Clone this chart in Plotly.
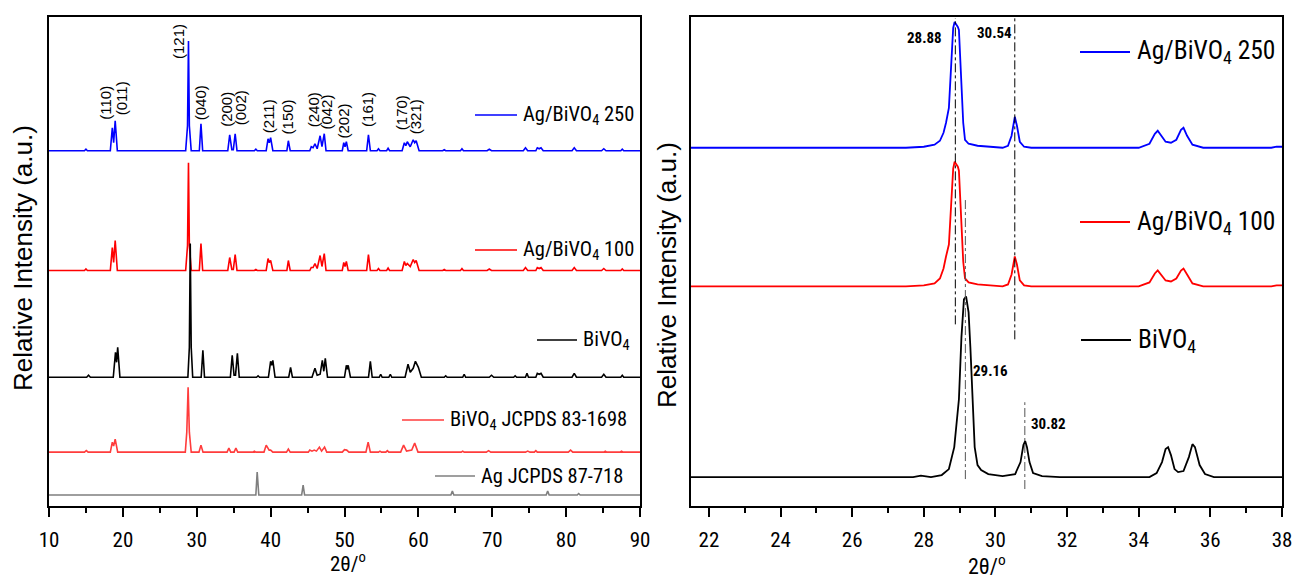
import plotly.graph_objects as go

# ---------------- LEFT PANEL DATA (2θ, relative intensity a.u.) ----------------
L250_x = [10, 14.8, 15.0, 15.2, 18.3, 18.57, 18.75, 18.96, 19.25, 28.5, 28.75, 28.88, 29.0, 29.25,
          30.35, 30.57, 30.8, 34.2, 34.46, 34.75, 34.95, 35.2, 35.45, 37.8, 38.0, 38.2,
          39.4, 39.65, 39.82, 40.0, 40.3, 42.2, 42.4, 42.65, 45.3, 45.5, 45.75, 46.0, 46.3, 46.7, 46.95, 47.26, 47.5,
          49.7, 49.9, 50.07, 50.25, 50.5, 53.0, 53.24, 53.5, 54.4, 54.6, 54.8, 55.7, 55.9, 56.1,
          57.8, 58.1, 58.3, 58.5, 58.9, 59.3, 59.5, 59.7, 60.1, 63.3, 63.5, 63.7, 65.7, 65.9, 66.1,
          69.3, 69.6, 69.9, 74.2, 74.5, 74.8, 75.9, 76.1, 76.35, 76.6, 76.9, 80.8, 81.1, 81.4,
          84.8, 85.1, 85.4, 87.4, 87.6, 87.8, 90]
L250_y = [0, 0, 1.5, 0, 0, 23, 8, 30, 0, 0, 25, 110, 25, 0,
          0, 27, 0, 0, 16, 1, 1, 17, 0, 0, 1.5, 0,
          0, 12, 8, 13, 0, 0, 10, 0, 0, 4, 3, 7, 2, 15, 4, 17, 0,
          0, 8, 4, 9, 0, 0, 16, 0, 0, 2, 0, 0, 2.5, 0,
          0, 8, 5, 9, 4, 11, 8, 10, 0, 0, 1, 0, 0, 2, 0,
          0, 1.5, 0, 0, 3, 0, 0, 3, 2, 3, 0, 0, 3, 0,
          0, 2, 0, 0, 1.5, 0, 0]

L100_x = L250_x
L100_y = [0, 0, 1.5, 0, 0, 23, 8, 30, 0, 0, 25, 108, 25, 0,
          0, 27, 0, 0, 13, 1, 1, 16, 0, 0, 1, 0,
          0, 12, 8, 10, 0, 0, 10, 0, 0, 3, 3, 7, 2, 15, 4, 17, 0,
          0, 8, 4, 9, 0, 0, 16, 0, 0, 2, 0, 0, 2.5, 0,
          0, 9, 5, 7, 4, 11, 8, 10, 0, 0, 1, 0, 0, 2, 0,
          0, 1.5, 0, 0, 3, 0, 0, 3, 2, 3, 0, 0, 3, 0,
          0, 2, 0, 0, 1.5, 0, 0]

LBi_x = [10, 15.1, 15.35, 15.6, 18.7, 19.0, 19.15, 19.3, 19.6, 28.8, 29.0, 29.12, 29.25, 29.45,
         30.6, 30.83, 31.05, 34.55, 34.8, 35.05, 35.25, 35.5, 35.75, 38.1, 38.3, 38.5,
         39.7, 40.0, 40.15, 40.3, 40.6, 42.45, 42.7, 42.95, 45.6, 45.8, 46.0, 46.3, 46.7, 47.0, 47.2, 47.4, 47.7,
         50.0, 50.25, 50.38, 50.5, 50.8, 53.25, 53.5, 53.75, 54.7, 54.9, 55.1, 56.0, 56.2, 56.4,
         58.2, 58.6, 58.9, 59.3, 59.6, 60.0, 60.4, 63.5, 63.7, 63.9, 66.0, 66.2, 66.4, 69.6, 69.9, 70.2,
         72.9, 73.1, 73.3, 74.5, 74.7, 74.9, 75.9, 76.1, 76.35, 76.6, 76.9, 80.8, 81.1, 81.4,
         84.8, 85.1, 85.4, 87.4, 87.6, 87.8, 90]
LBi_y = [0, 0, 2, 0, 0, 25, 15, 30, 0, 0, 30, 134, 30, 0,
         0, 27, 0, 0, 22, 2, 2, 24, 0, 0, 1.5, 0,
         0, 16, 12, 17, 0, 0, 10, 0, 0, 4, 9, 2, 3, 17, 6, 19, 0,
         0, 12, 8, 12, 0, 0, 16, 0, 0, 3, 0, 0, 3, 0,
         0, 13, 5, 9, 16, 10, 0, 0, 1.5, 0, 0, 3, 0, 0, 2, 0,
         0, 1.5, 0, 0, 4, 0, 0, 4, 3, 4, 0, 0, 4, 0,
         0, 3, 0, 0, 2, 0, 0]

LJB_x = [10, 14.8, 15.05, 15.3, 18.3, 18.57, 18.75, 18.96, 19.3, 28.45, 28.65, 28.83, 29.0, 29.25,
         30.3, 30.57, 30.85, 34.1, 34.35, 34.6, 35.05, 35.3, 35.55, 37.6, 37.8, 38.0,
         39.1, 39.4, 39.8, 40.0, 40.3, 42.15, 42.4, 42.65, 45.1, 45.3, 45.6, 45.9, 46.2, 46.6, 46.9, 47.3, 47.6,
         49.7, 50.0, 50.3, 50.6, 52.9, 53.2, 53.5, 54.6, 54.8, 55.0, 55.6, 55.8, 56.0,
         57.6, 58.0, 58.4, 59.1, 59.5, 59.95, 65.8, 66.0, 66.2, 69.2, 69.5, 69.8,
         74.5, 74.8, 75.1, 75.7, 75.9, 76.1, 80.3, 80.6, 80.9, 85.1, 85.3, 85.5, 87.3, 87.5, 87.7, 90]
LJB_y = [0, 0, 1.5, 0, 0, 10, 6, 13, 0, 0, 20, 65, 20, 0,
         0, 7, 0, 0, 4, 0, 0, 4, 0, 0, 1, 0,
         0, 7, 2, 2, 0, 0, 3, 0, 0, 2, 1, 2, 1, 5, 1, 5, 0,
         0, 2.5, 2, 0, 0, 10, 0, 0, 1, 0, 0, 1.5, 0,
         0, 7, 1, 2, 9, 0, 0, 1, 0, 0, 1.5, 0,
         0, 1, 0, 0, 1.5, 0, 0, 2, 0, 0, 1, 0, 0, 1, 0, 0]

LAg_x = [10, 38.0, 38.18, 38.4, 44.2, 44.4, 44.6, 64.4, 64.6, 64.8, 77.3, 77.5, 77.7, 81.5, 81.7, 81.9, 90]
LAg_y = [0, 0, 23, 0, 0, 10, 0, 0, 4, 0, 0, 4, 0, 0, 1.5, 0, 0]

L_names = ["Ag/BiVO<sub>4</sub> 250", "Ag/BiVO<sub>4</sub> 100", "BiVO<sub>4</sub>",
           "BiVO<sub>4</sub> JCPDS 83-1698", "Ag JCPDS 87-718"]
L_offsets = [356, 236, 129, 54, 11]

hkl_labels = ["(110)", "(011)", "(121)", "(040)", "(200)", "(002)", "(211)", "(150)",
              "(240)", "(042)", "(202)", "(161)", "(170)", "(321)"]
hkl_pos = [17.7, 19.8, 27.6, 30.5, 34.1, 35.9, 39.7, 42.3, 45.8, 47.6, 49.9, 53.2, 57.7, 59.6]
hkl_y = [404, 409, 465, 404, 397, 399, 391, 390, 397, 395, 386, 397, 394, 390]

# ---------------- RIGHT PANEL DATA ----------------
R250_x = [21.5, 27.5, 28.0, 28.3, 28.45, 28.55, 28.62, 28.7, 28.76, 28.82, 28.86, 28.9, 28.95, 28.98,
          29.05, 29.1, 29.15, 29.25, 29.5, 29.9, 30.2, 30.35, 30.45, 30.54, 30.6, 30.68, 30.8, 31.0,
          34.0, 34.3, 34.45, 34.53, 34.62, 34.75, 34.9, 35.05, 35.18, 35.25, 35.35, 35.5, 35.8, 37.7, 37.85, 38.0]
R250_y = [0, 0, 1, 3, 7, 15, 25, 40, 80, 120, 126, 124, 121, 118,
          70, 25, 8, 4, 2, 0.5, 0, 2, 12, 31, 22, 6, 1, 0,
          0, 4, 14, 17, 12, 6, 5, 8, 18, 20, 12, 3, 0, 0, 1, 1]

R100_x = R250_x
R100_y = [0, 0, 1, 3, 8, 18, 30, 42, 80, 118, 125, 123, 120, 116,
          70, 25, 8, 4, 2, 0.5, 0, 2, 12, 30, 22, 6, 1, 0,
          0, 4, 13, 16, 12, 6, 5, 8, 16, 18, 12, 3, 0, 0, 1, 1]

RBi_x = [21.5, 27.7, 27.92, 28.2, 28.5, 28.7, 28.85, 28.98, 29.05, 29.12, 29.18, 29.25, 29.3, 29.36,
         29.42, 29.5, 29.6, 29.8, 30.2, 30.55, 30.7, 30.78, 30.83, 30.88, 30.95, 31.05, 31.3, 31.8,
         34.3, 34.5, 34.65, 34.75, 34.82, 34.9, 35.0, 35.1, 35.25, 35.4, 35.5, 35.57, 35.7, 35.85, 36.1, 38.0]
RBi_y = [0, 0, 1.5, 0, 2, 8, 30, 78, 140, 178, 181, 165, 130, 78,
         30, 12, 7, 3, 1, 3, 15, 32, 36, 30, 15, 4, 1, 0,
         0, 4, 15, 28, 30, 22, 8, 5, 6, 20, 33, 30, 12, 3, 0, 0]

R_names = ["Ag/BiVO<sub>4</sub> 250", "Ag/BiVO<sub>4</sub> 100", "BiVO<sub>4</sub>"]
R_offsets = [359, 220, 29]

ref_peaks = [28.88, 30.54, 29.16, 30.82]
ref_labels = ["28.88", "30.54", "29.16", "30.82"]

COLORS = ["#0000FF", "#FF0000", "#000000", "#FF3C3C", "#7F7F7F"]
NARROW = "Roboto Condensed, Liberation Sans Narrow, Arial Narrow, sans-serif"
REG = "Liberation Sans, Arial, sans-serif"

fig = go.Figure()

L_series = [(L250_x, L250_y), (L100_x, L100_y), (LBi_x, LBi_y), (LJB_x, LJB_y), (LAg_x, LAg_y)]
for (xs, ys), off, name, col in zip(L_series, L_offsets, L_names, COLORS):
    fig.add_trace(go.Scatter(x=xs, y=[v + off for v in ys], mode="lines", name=name,
                             line=dict(color=col, width=1.6), xaxis="x", yaxis="y", showlegend=False))

R_series = [(R250_x, R250_y), (R100_x, R100_y), (RBi_x, RBi_y)]
for (xs, ys), off, name, col in zip(R_series, R_offsets, R_names, COLORS[:3]):
    fig.add_trace(go.Scatter(x=xs, y=[v + off for v in ys], mode="lines", name=name,
                             line=dict(color=col, width=1.8), xaxis="x2", yaxis="y2", showlegend=False))

# reference dash-dot lines (right panel)
ref_spans = [(182, 489), (167, 490), (27, 309), (17, 104)]
ref_cols = ["#000000", "#000000", "#555555", "#555555"]
for p, (y0, y1), c in zip(ref_peaks, ref_spans, ref_cols):
    fig.add_trace(go.Scatter(x=[p, p], y=[y0, y1], mode="lines", xaxis="x2", yaxis="y2",
                             line=dict(color=c, width=1, dash="dashdot"), showlegend=False))

W, H = 1292, 579
def px(x): return x / W
def py(y): return 1 - y / H

ann = []
# hkl labels
for lab, xp, yp in zip(hkl_labels, hkl_pos, hkl_y):
    ann.append(dict(x=xp, y=yp, xref="x", yref="y", text=lab, textangle=-90, showarrow=False,
                    xanchor="center", yanchor="middle",
                    font=dict(family=REG, size=15, color="black")))
# peak-position labels
ref_ann_pos = [(28.55, 469, "right"), (29.98, 474, "center"), (29.86, 135, "center"), (31.48, 82, "center")]
for lab, (xp, yp, al) in zip(ref_labels, ref_ann_pos):
    ann.append(dict(x=xp, y=yp, xref="x2", yref="y2", text="<b>%s</b>" % lab, showarrow=False,
                    xanchor=al, yanchor="middle", font=dict(family=NARROW, size=15, color="black")))

shapes = []
# manual legends, left panel
L_leg = [(475, 517, 115), (475, 517, 250), (537, 577, 340), (402, 444, 420), (435, 475, 476)]
for (x0, x1, yy), name, col in zip(L_leg, L_names, COLORS):
    shapes.append(dict(type="line", xref="paper", yref="paper", x0=px(x0), x1=px(x1), y0=py(yy), y1=py(yy),
                       line=dict(color=col, width=1.6)))
    ann.append(dict(x=px(x1 + 4), y=py(yy), xref="paper", yref="paper", text=name, showarrow=False,
                    xanchor="left", yanchor="middle", font=dict(family=NARROW, size=20.5, color="black")))
R_leg = [(1080, 1130, 52), (1080, 1130, 222), (1081, 1131, 340)]
for (x0, x1, yy), name, col in zip(R_leg, R_names, COLORS[:3]):
    shapes.append(dict(type="line", xref="paper", yref="paper", x0=px(x0), x1=px(x1), y0=py(yy), y1=py(yy),
                       line=dict(color=col, width=1.8)))
    ann.append(dict(x=px(x1 + 5), y=py(yy), xref="paper", yref="paper", text=name, showarrow=False,
                    xanchor="left", yanchor="middle", font=dict(family=NARROW, size=25.5, color="black")))

# axis titles
ann.append(dict(x=px(23), y=py(258), xref="paper", yref="paper", text="Relative Intensity (a.u.)",
                textangle=-90, showarrow=False, xanchor="center", yanchor="middle",
                font=dict(family=REG, size=26, color="black")))
ann.append(dict(x=px(667), y=py(275), xref="paper", yref="paper", text="Relative Intensity (a.u.)",
                textangle=-90, showarrow=False, xanchor="center", yanchor="middle",
                font=dict(family=REG, size=26, color="black")))
ann.append(dict(x=px(348), y=py(562), xref="paper", yref="paper", text="2θ/<sup>o</sup>",
                showarrow=False, xanchor="center", yanchor="middle",
                font=dict(family=NARROW, size=21, color="black")))
ann.append(dict(x=px(987), y=py(565), xref="paper", yref="paper", text="2θ/<sup>o</sup>",
                showarrow=False, xanchor="center", yanchor="middle",
                font=dict(family=NARROW, size=22, color="black")))

xcommon = dict(showline=True, linecolor="black", linewidth=2, mirror=True, ticks="outside",
               ticklen=9, tickwidth=1.5, tickcolor="black", showgrid=False, zeroline=False,
               ticklabelstandoff=5, ticklabeloverflow="allow",
               tickfont=dict(family=NARROW, size=21, color="black"), automargin=False)
ycommon = dict(showline=True, linecolor="black", linewidth=1.6, mirror=True, ticks="",
               showticklabels=False, showgrid=False, zeroline=False, range=[0, 490], automargin=False)

fig.update_layout(
    width=W, height=H, margin=dict(l=0, r=0, t=0, b=0),
    paper_bgcolor="white", plot_bgcolor="white",
    xaxis=dict(domain=[px(49), px(640)], range=[10, 90.0001], dtick=10, anchor="y",
               minor=dict(dtick=5, ticks="outside", ticklen=5, tickwidth=1.5, tickcolor="black"), **xcommon),
    yaxis=dict(domain=[py(506), py(17)], anchor="x", **ycommon),
    xaxis2=dict(domain=[px(691), px(1282)], range=[21.5, 38.0001], dtick=2, tick0=0, anchor="y2",
                minor=dict(dtick=1, ticks="outside", ticklen=5, tickwidth=1.5, tickcolor="black"), **xcommon),
    yaxis2=dict(domain=[py(506), py(17)], anchor="x2", **ycommon),
    annotations=ann, shapes=shapes,
)

fig.write_html("out.html")
